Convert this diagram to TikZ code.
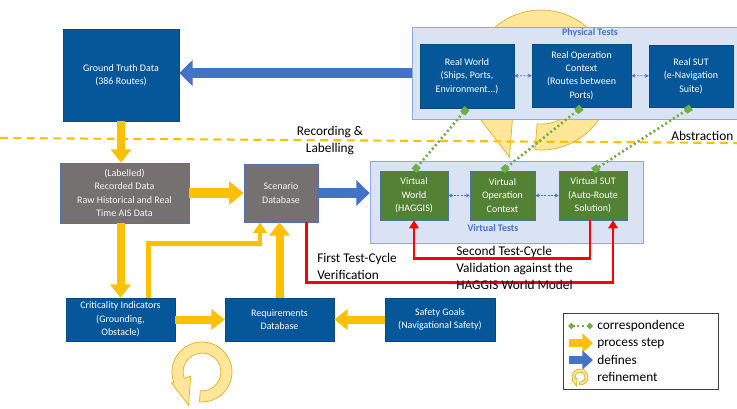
\documentclass[tikz,border=0pt]{standalone}
\usepackage{fontspec}
\setmainfont{Carlito}
\usepackage{xcolor}
\usepackage{tikz}
\usetikzlibrary{arrows.meta,calc}
\definecolor{navy}{HTML}{05579A}
\definecolor{slate}{HTML}{767171}
\definecolor{leaf}{HTML}{548235}
\definecolor{panelbg}{HTML}{DAE3F3}
\definecolor{panelln}{HTML}{8EA9DB}
\definecolor{defblue}{HTML}{4472C4}
\definecolor{amber}{HTML}{FFC000}
\definecolor{corrgreen}{HTML}{70AD47}
\definecolor{loopfill}{HTML}{FFE699}
\definecolor{loopln}{HTML}{E2B53A}
\definecolor{cycred}{HTML}{FF0000}
\newcommand{\refloop}[2]{%
  \begin{scope}[shift={#1},scale=#2]
    \filldraw[loop] (95:1) arc[start angle=95,end angle=-200,radius=1]
      -- (-200:1.08) -- (-0.45,1.10) -- (-200:0.40) -- (-200:0.63)
      arc[start angle=-200,end angle=95,radius=0.63] -- cycle;
  \end{scope}}
\tikzset{
  every node/.style={font=\fontsize{10}{12.75}\selectfont},
  dims/.style 2 args={minimum width=#1*0.75pt,minimum height=#2*0.75pt},
  box/.style={fill=navy,draw=navy!85!black,line width=0.4pt,text=white,align=center,
              font=\fontsize{7.5}{10}\selectfont,inner sep=1pt},
  store/.style={box,fill=slate,draw=defblue!70!slate,text=white!92!slate},
  sim/.style={box,fill=leaf,draw=defblue!70!leaf},
  panel/.style={fill=panelbg,draw=panelln,line width=0.6pt},
  panelcap/.style={font=\fontsize{7.5}{9}\selectfont\bfseries,text=defblue,inner sep=1pt},
  flow/.style={draw=amber,line width=6pt,-{Triangle[width=15pt,length=10pt]}},
  flowwide/.style={draw=amber,line width=8pt,-{Triangle[width=17pt,length=11pt]}},
  flowthin/.style={draw=amber,line width=3.5pt,-{Triangle[width=10pt,length=8pt]}},
  defarr/.style={draw=defblue,line width=8pt,-{Triangle[width=19pt,length=10pt]}},
  cycle/.style={draw=cycred,line width=2.2pt,-{Triangle[width=7pt,length=6pt]}},
  corr/.style={draw=corrgreen,line width=2pt,dash pattern=on 1.5pt off 2pt,
               {Square[width=5pt,length=5pt]}-{Square[width=5pt,length=5pt]}},
  link/.style={draw=defblue,line width=0.5pt,dash pattern=on 1.5pt off 1pt,
               {Stealth[length=3pt,width=3pt]}-{Stealth[length=3pt,width=3pt]}},
  absline/.style={draw=amber,line width=1.6pt,dash pattern=on 6pt off 4pt},
  loop/.style={fill=loopfill,draw=loopln,line width=0.6pt},
  lab/.style={align=left,inner sep=0pt},
}
\begin{document}
\begin{tikzpicture}[x=0.75pt,y=-0.75pt]
\useasboundingbox (0,0) rectangle (737,408);
\refloop{(541,80)}{70}
\draw[absline] (0,138) -- (737,143);

\node[panel,dims={325}{92}] (phys) at (574.5,73) {};
\node[panelcap] (physcap) at (590,33) {Physical Tests};
\node[box,dims={94}{64}] (rw) at (467,76) {Real World\\(Ships, Ports,\\Environment...)};
\node[box,dims={99}{63}] (roc) at (581.5,75.5) {Real Operation\\Context\\(Routes between\\Ports)};
\node[box,dims={84}{62}] (rsut) at (691,76) {Real SUT\\(e-Navigation\\Suite)};
\draw[link] (rw) -- (roc);
\draw[link] (roc) -- (rsut);

\node[box,dims={116}{92}] (gt) at (121,75) {Ground Truth Data\\(386 Routes)};
\node[store,dims={129}{60}] (rec) at (124.5,193) {(Labelled)\\Recorded Data\\Raw Historical and Real\\Time AIS Data};
\node[store,dims={74}{58}] (scen) at (281,193) {Scenario\\Database};

\node[panel,dims={273}{82}] (virt) at (506.5,202) {};
\node[panelcap] (virtcap) at (493,228) {Virtual Tests};
\node[sim,dims={68}{49}] (vw) at (414,195.5) {Virtual\\World\\(HAGGIS)};
\node[sim,dims={65}{49}] (voc) at (502.5,195.5) {Virtual\\Operation\\Context};
\node[sim,dims={68}{49}] (vsut) at (593,195.5) {Virtual SUT\\(Auto-Route\\Solution)};
\draw[link] (vw) -- (voc);
\draw[link] (voc) -- (vsut);

\node[box,dims={109}{43}] (crit) at (120.5,319.5) {Criticality Indicators\\(Grounding,\\Obstacle)};
\node[box,dims={109}{43}] (req) at (279.5,319.5) {Requirements\\Database};
\node[box,dims={110}{43}] (safe) at (440,319.5) {Safety Goals\\(Navigational Safety)};

\draw[defarr] (phys.west) -- (phys.west -| gt.east);
\draw[defarr] (scen.east) -- (scen.east -| virt.west);
\draw[flow] (gt.south) -- (gt.south |- rec.north);
\draw[flowwide] (rec.east) -- (scen.west);
\draw[flow] (crit.north |- rec.south) -- (crit.north);
\draw[flowthin] ($(crit.north)+(28,0)$) -- ++(0,-54) -| ($(scen.south)+(-21,0)$);
\draw[flow] (req.north) -- (req.north |- scen.south);
\draw[flow] (crit.east) -- (req.west);
\draw[flow] (safe.west) -- (req.east);

\draw[cycle] ($(scen.south east)+(-12,0)$) -- ++(0,60) -| ($(vsut.south)+(20,0)$);
\draw[cycle] ($(vsut.south)+(-3,0)$) -- ++(0,38) -| (vw.south);

\draw[corr] (rw.south) -- (vw.north);
\draw[corr] (roc.south) -- (voc.north);
\draw[corr] (rsut.south) -- (vsut.north);

\node[align=center] (reclab) at (330,141) {Recording \&\\Labelling};
\node[anchor=west,inner sep=0pt] (abslab) at (671,136) {Abstraction};
\node[lab,anchor=west] (firstlab) at (317,266) {First Test-Cycle\\Verification};
\node[lab,anchor=west] (secondlab) at (456,268) {Second Test-Cycle\\Validation against the\\HAGGIS World Model};

\refloop{(202,372)}{30}

\node[draw=black!75,line width=0.7pt,dims={155}{76}] (legend) at (640.5,351) {};
\coordinate (k1a) at (568,326); \coordinate (k1b) at (593,326);
\draw[draw=corrgreen,line width=2pt,dash pattern=on 1.5pt off 2pt,
      {Diamond[width=5pt,length=5pt]}-{Diamond[width=5pt,length=5pt]}] (k1a) -- (k1b);
\coordinate (k2a) at (569,343); \coordinate (k2b) at (593,343);
\draw[draw=amber,line width=6pt,-{Triangle[width=14pt,length=8pt]}] (k2a) -- (k2b);
\coordinate (k3a) at (569,360); \coordinate (k3b) at (593,360);
\draw[draw=defblue,line width=6pt,-{Triangle[width=14pt,length=8pt]}] (k3a) -- (k3b);
\refloop{(580,377)}{8}
\node[anchor=west,inner sep=0pt] (key1) at (597,326) {correspondence};
\node[anchor=west,inner sep=0pt] (key2) at (597,343) {process step};
\node[anchor=west,inner sep=0pt] (key3) at (597,360) {defines};
\node[anchor=west,inner sep=0pt] (key4) at (597,377) {refinement};
\end{tikzpicture}
\end{document}
